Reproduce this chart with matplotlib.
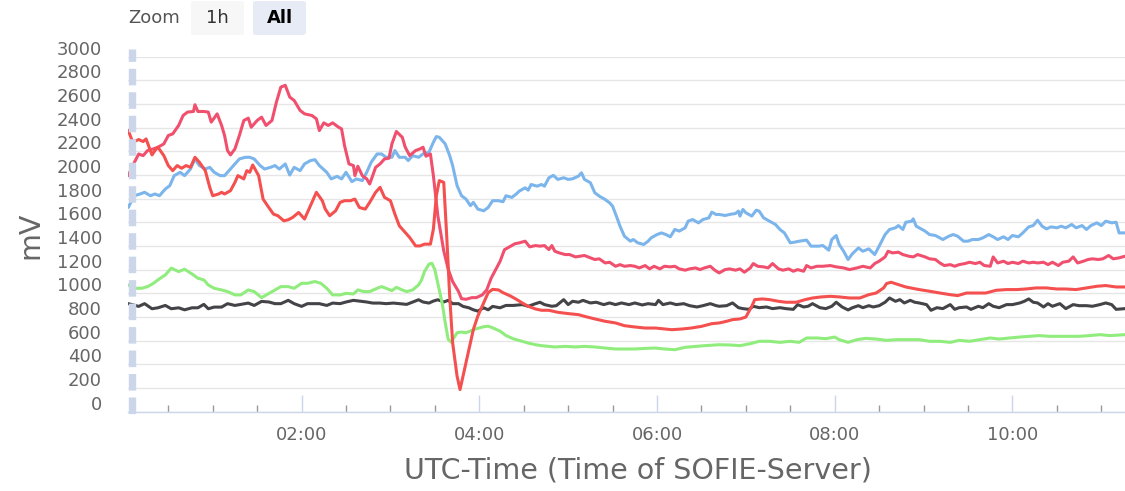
import matplotlib
matplotlib.use("Agg")
import matplotlib.pyplot as plt
from matplotlib.ticker import MultipleLocator, FuncFormatter
from matplotlib.transforms import ScaledTranslation
from matplotlib.lines import Line2D
from matplotlib.patches import FancyBboxPatch

# time in minutes after 00:00 UTC, values in mV
t_blue = [3, 7, 11, 14, 18, 21, 24, 28, 31, 34, 38, 41, 45, 48, 51, 55, 58, 61, 65, 68,
          72, 75, 78, 82, 85, 88, 92, 95, 99, 102, 105, 109, 112, 115, 119, 122, 126, 129, 132,
          137, 140, 144, 147, 150, 154, 157, 161, 164, 167, 171, 174, 177, 181, 183, 186, 190,
          192, 195, 199, 202, 206, 209, 211, 213, 217, 220, 222, 225, 228, 231, 234, 236, 239,
          243, 246, 249, 253, 256, 258, 262, 265, 267, 271, 273, 275, 279, 282, 284, 287, 290,
          293, 297, 300, 303, 307, 309, 311, 315, 318, 321, 325, 328, 330, 333, 335, 338, 342,
          344, 347, 351, 354, 356, 360, 363, 366, 369, 372, 375, 379, 381, 384, 388, 391, 395,
          397, 400, 402, 406, 409, 413, 415, 416, 418, 420, 424, 427, 429, 432, 436, 440, 443,
          446, 450, 453, 456, 461, 464, 469, 472, 476, 478, 481, 483, 486, 489, 492, 496, 499,
          503, 507, 510, 514, 517, 521, 523, 526, 528, 532, 533, 535, 537, 541, 544, 548, 551,
          553, 557, 560, 563, 567, 570, 573, 577, 580, 584, 587, 590, 594, 597, 600, 604, 607,
          611, 614, 617, 620, 623, 626, 630, 633, 636, 640, 643, 647, 650, 653, 657, 660, 663,
          667, 670, 672, 676]
v_blue = [1726, 1825, 1840, 1854, 1825, 1840, 1825, 1882, 1910, 1995, 2023, 1995, 2051, 2136,
          2080, 2051, 2065, 2023, 1995, 1995, 2051, 2094, 2136, 2150, 2150, 2136, 2080, 2051,
          2065, 2080, 2051, 2094, 2000, 2065, 2037, 2094, 2122, 2130, 2080,
          2023, 1967, 1989, 1967, 2023, 1944, 1967, 1953, 2023, 2108, 2178, 2178, 2150, 2150,
          2207, 2150, 2150, 2122, 2164, 2150, 2178, 2192, 2277, 2325, 2319, 2263, 2164, 2080,
          1910, 1825, 1797, 1741, 1769, 1712, 1698, 1726, 1783, 1783, 1774, 1825, 1811, 1840,
          1864, 1892, 1872, 1920, 1906, 1920, 1906, 1977, 1997, 1963, 1977, 1963, 1968, 1991,
          2019, 1963, 1935, 1850, 1822, 1793, 1765, 1737, 1638, 1568, 1483, 1441, 1455, 1427,
          1413, 1441, 1469, 1497, 1511, 1497, 1478, 1540, 1526, 1554, 1610, 1624, 1596, 1624,
          1638, 1686, 1666, 1667, 1658, 1667, 1675, 1695, 1653, 1709, 1681, 1653, 1703, 1695,
          1638, 1610, 1582, 1540, 1511, 1427, 1433, 1441, 1450, 1399, 1399, 1404, 1365, 1455,
          1489, 1413, 1356, 1286, 1336, 1384, 1356, 1376, 1328, 1399, 1497, 1540, 1554, 1573,
          1540, 1601, 1610, 1630, 1568, 1554, 1526, 1497, 1489, 1469, 1455, 1483, 1497, 1483,
          1441, 1441, 1455, 1455, 1469, 1497, 1478, 1455, 1478, 1455, 1489, 1478, 1511, 1562,
          1573, 1618, 1568, 1545, 1562, 1554, 1568, 1554, 1582, 1554, 1573, 1540, 1573, 1596,
          1573, 1610, 1596, 1601, 1511, 1511]

t_pink = [3, 6, 10, 13, 16, 20, 23, 27, 30, 33, 37, 40, 43, 47, 48, 50, 54, 57, 59, 63, 66,
          68, 70, 72, 75, 78, 81, 84, 86, 90, 93, 96, 100, 103, 106, 109, 112, 115, 119, 122,
          127, 130, 132, 135, 138, 141, 145, 147, 149, 152, 155, 156, 158, 161, 164, 166, 170,
          173, 176, 179, 181, 184, 188, 190, 193, 197, 200, 202, 204, 207, 209, 212, 216, 219,
          222, 226, 228, 231, 235, 238, 242, 245, 248, 251, 254, 257, 261, 264, 267, 271, 274,
          278, 281, 284, 287, 289, 291, 294, 298, 301, 305, 308, 311, 315, 318, 321, 325, 328,
          332, 335, 338, 342, 345, 348, 352, 355, 358, 362, 365, 369, 372, 375, 379, 382, 386,
          389, 392, 396, 399, 402, 406, 409, 413, 416, 419, 423, 425, 428, 432, 435, 438, 442,
          445, 449, 452, 455, 459, 461, 464, 468, 472, 477, 481, 486, 490, 495, 499, 504, 507,
          510, 514, 516, 519, 523, 526, 530, 533, 536, 541, 544, 548, 551, 554, 558, 561, 564,
          568, 571, 575, 578, 581, 585, 587, 590, 594, 597, 600, 604, 607, 611, 614, 617, 621,
          624, 627, 631, 634, 638, 641, 644, 648, 651, 654, 658, 661, 665, 668, 672, 676]
v_pink = [1995, 2080, 2178, 2164, 2207, 2221, 2235, 2263, 2334, 2348, 2419, 2503, 2532, 2537,
          2594, 2537, 2537, 2532, 2447, 2517, 2419, 2334, 2207, 2170, 2221, 2334, 2461, 2481,
          2404, 2461, 2489, 2419, 2461, 2616, 2743, 2758, 2659, 2630, 2546, 2517, 2503, 2475,
          2376, 2441, 2419, 2441, 2404, 2390, 2249, 2094, 2080, 1995, 2074, 1995, 1967, 1924,
          2065, 2094, 2136, 2142, 2263, 2368, 2319, 2235, 2164, 2207, 2221, 2235, 2159, 2178,
          1995, 1656, 1359, 1204, 1100, 1015, 955, 950, 964, 964, 987, 1029, 1128, 1199, 1270,
          1369, 1397, 1419, 1427, 1441, 1393, 1404, 1399, 1404, 1370, 1404, 1356, 1342, 1328,
          1328, 1308, 1314, 1320, 1300, 1286, 1292, 1257, 1263, 1229, 1243, 1229, 1235, 1229,
          1215, 1235, 1207, 1229, 1207, 1229, 1224, 1229, 1207, 1196, 1207, 1215, 1201, 1215,
          1229, 1196, 1173, 1201, 1207, 1196, 1207, 1179, 1215, 1252, 1229, 1224, 1215, 1252,
          1207, 1196, 1207, 1187, 1201, 1187, 1235, 1215, 1229, 1229, 1235, 1224, 1215, 1201,
          1215, 1229, 1215, 1252, 1272, 1308, 1356, 1342, 1348, 1328, 1314, 1308, 1328, 1308,
          1292, 1286, 1257, 1235, 1243, 1229, 1243, 1252, 1263, 1252, 1263, 1235, 1229, 1308,
          1257, 1272, 1252, 1263, 1252, 1272, 1257, 1263, 1257, 1263, 1243, 1263, 1235, 1263,
          1272, 1308, 1257, 1272, 1286, 1292, 1286, 1292, 1320, 1292, 1300, 1314]

t_red = [3, 6, 10, 13, 15, 19, 21, 23, 27, 30, 33, 36, 39, 42, 45, 48, 51, 55, 58, 60, 64,
         66, 68, 72, 75, 77, 81, 83, 85, 87, 91, 94, 97, 101, 104, 108, 111, 114, 118, 122,
         126, 130, 134, 136, 139, 143, 146, 149, 153, 156, 159, 163, 166, 170, 173, 176, 180,
         183, 186, 190, 193, 197, 200, 203, 207, 209, 211, 213, 216, 218, 220, 222, 225, 227,
         229, 233, 236, 239, 243, 246, 249, 253, 256, 261, 265, 269, 273, 278, 282, 287, 293,
         300, 307, 311, 318, 325, 332, 338, 345, 352, 359, 365, 370, 377, 383, 390, 397, 402,
         407, 411, 416, 420, 424, 426, 431, 436, 442, 447, 454, 460, 465, 471, 477, 483, 490,
         497, 503, 508, 513, 515, 518, 523, 528, 535, 537, 544, 551, 558, 563, 569, 576, 582,
         589, 596, 603, 609, 616, 623, 630, 636, 643, 650, 657, 663, 670, 676]
v_red = [2376, 2277, 2300, 2283, 2305, 2170, 2207, 2235, 2164, 2080, 2037, 2080, 2057, 2080,
         2065, 2150, 2108, 2037, 1896, 1825, 1840, 1854, 1840, 1868, 1938, 1995, 1967, 2037,
         2023, 2085, 1995, 1797, 1741, 1670, 1656, 1613, 1622, 1642, 1684, 1628, 1741, 1854,
         1783, 1712, 1656, 1698, 1769, 1783, 1783, 1797, 1726, 1712, 1769, 1854, 1896, 1811,
         1783, 1670, 1571, 1515, 1472, 1401, 1401, 1416, 1416, 1543, 1825, 1953, 1938, 1486,
         978, 582, 300, 187, 300, 526, 695, 808, 921, 1006, 1034, 1029, 1006, 978, 950, 919,
         891, 868, 857, 857, 840, 829, 820, 806, 784, 764, 750, 727, 716, 707, 707, 699, 693,
         699, 707, 721, 744, 750, 764, 778, 784, 800, 891, 947, 953, 947, 933, 925, 925, 947,
         961, 970, 975, 970, 961, 961, 989, 1003, 1046, 1083, 1094, 1074, 1054, 1037, 1032,
         1018, 1003, 989, 981, 1003, 1003, 1003, 1026, 1032, 1032, 1037, 1046, 1046, 1037,
         1037, 1032, 1046, 1060, 1066, 1054, 1054]

t_green = [3, 7, 12, 16, 20, 23, 28, 32, 37, 41, 46, 50, 54, 57, 61, 66, 70, 75, 79, 84, 88,
           93, 98, 102, 106, 111, 115, 120, 124, 129, 133, 137, 141, 146, 150, 155, 158, 162,
           166, 171, 174, 177, 181, 184, 188, 191, 195, 199, 201, 203, 206, 208, 210, 212, 215,
           217, 219, 221, 225, 228, 231, 235, 238, 243, 246, 249, 254, 258, 263, 269, 273, 278,
           282, 287, 291, 298, 305, 311, 318, 325, 332, 338, 345, 352, 359, 365, 372, 379, 386,
           392, 399, 402, 409, 416, 423, 429, 436, 443, 450, 456, 461, 468, 474, 480, 483, 489,
           495, 501, 508, 515, 522, 528, 535, 537, 544, 551, 558, 564, 571, 578, 585, 591, 598,
           605, 612, 618, 625, 632, 639, 645, 652, 659, 666, 676]
v_green = [1070, 1043, 1043, 1057, 1085, 1114, 1156, 1213, 1184, 1204, 1164, 1128, 1114, 1071,
           1043, 1029, 1015, 987, 987, 1029, 1015, 964, 1000, 1029, 1057, 1057, 1043, 1085,
           1085, 1100, 1085, 1043, 987, 987, 1000, 995, 1029, 1015, 1015, 1043, 1057, 1043,
           1023, 1051, 1029, 1015, 1029, 1071, 1114, 1184, 1247, 1255, 1199, 1085, 913, 752,
           611, 588, 667, 673, 667, 687, 701, 718, 723, 709, 681, 644, 616, 595, 580, 566,
           558, 552, 547, 552, 547, 552, 547, 538, 530, 530, 530, 535, 538, 530, 524, 544, 552,
           558, 564, 566, 564, 558, 575, 595, 595, 586, 595, 586, 623, 623, 617, 631, 609, 586,
           609, 620, 614, 603, 609, 609, 609, 609, 595, 595, 586, 603, 595, 609, 623, 614, 623,
           631, 637, 643, 637, 637, 637, 637, 643, 651, 643, 651]

t_black = [3, 10, 14, 19, 23, 28, 32, 37, 41, 46, 50, 54, 57, 61, 66, 70, 75, 79, 84, 88, 93,
           98, 102, 106, 111, 115, 120, 124, 129, 132, 137, 141, 146, 150, 155, 159, 164, 168,
           173, 177, 182, 186, 191, 195, 199, 202, 206, 209, 212, 216, 219, 222, 226, 229, 233,
           236, 239, 243, 246, 249, 254, 258, 263, 269, 273, 278, 281, 284, 289, 292, 297, 300,
           303, 307, 310, 315, 319, 324, 328, 332, 336, 341, 345, 350, 354, 359, 361, 364, 369,
           373, 378, 382, 387, 391, 396, 400, 402, 407, 411, 415, 418, 422, 425, 429, 434, 438,
           443, 447, 452, 455, 459, 462, 465, 470, 474, 478, 481, 485, 489, 492, 496, 499, 503,
           506, 510, 514, 517, 521, 524, 527, 531, 534, 537, 542, 545, 549, 553, 558, 561, 564,
           569, 572, 577, 580, 584, 587, 591, 596, 600, 605, 608, 611, 614, 617, 621, 624, 627,
           632, 636, 641, 645, 650, 654, 659, 663, 667, 670, 676]
v_black = [913, 890, 913, 870, 878, 898, 870, 878, 861, 878, 878, 907, 870, 884, 884, 913, 898,
           907, 918, 898, 932, 927, 913, 913, 941, 913, 890, 913, 913, 913, 898, 918, 913, 927,
           941, 935, 927, 918, 918, 913, 918, 913, 907, 927, 946, 927, 918, 935, 946, 927, 941,
           913, 913, 890, 878, 861, 850, 878, 861, 890, 878, 898, 898, 905, 891, 913, 925, 905,
           891, 896, 947, 905, 933, 925, 941, 919, 925, 905, 919, 905, 919, 905, 919, 902, 913,
           905, 941, 905, 919, 905, 913, 896, 885, 896, 913, 896, 891, 896, 919, 879, 871, 865,
           891, 879, 885, 871, 879, 871, 865, 905, 885, 891, 913, 879, 871, 891, 925, 885, 860,
           879, 896, 879, 896, 885, 896, 925, 961, 933, 947, 919, 941, 925, 919, 905, 857, 879,
           871, 905, 865, 879, 885, 865, 891, 879, 913, 891, 879, 905, 905, 919, 933, 953, 925,
           919, 885, 913, 891, 913, 871, 905, 896, 896, 891, 905, 919, 905, 865, 871]

series = [(t_blue, v_blue, '#7cb5ec'),
          (t_black, v_black, '#434348'),
          (t_green, v_green, '#90ed7d'),
          (t_pink, v_pink, '#f0506e'),
          (t_red, v_red, '#f4504f')]

W, H = 1125, 491
fig = plt.figure(figsize=(W / 100, H / 100), dpi=100)
ax = fig.add_axes([128.3 / W, 1 - 411.7 / H, (W - 128.3) / W, (411.7 - 56.7) / H])

for t, v, c in series:
    ax.plot(t, v, color=c, lw=2.2, solid_joinstyle='round', solid_capstyle='round')

ax.set_xlim(3, 676)
ax.set_ylim(0, 3000)
ax.yaxis.set_major_locator(MultipleLocator(200))
ax.xaxis.set_major_locator(MultipleLocator(120))
ax.xaxis.set_minor_locator(MultipleLocator(30))
ax.xaxis.set_major_formatter(FuncFormatter(lambda m, p: "%02d:%02d" % (int(m) // 60, int(m) % 60)))
ax.grid(axis='y', color='#e6e6e6', lw=1)
ax.set_axisbelow(True)
for s in ['left', 'right', 'top']:
    ax.spines[s].set_visible(False)
ax.spines['bottom'].set_color('#ccd6eb')
ax.spines['bottom'].set_linewidth(1)

ax.tick_params(axis='x', which='major', direction='in', length=12, color='#ccd6eb', width=1,
               labelsize=13, labelcolor='#666666', pad=10.5)
ax.tick_params(axis='x', which='minor', direction='in', length=4.8, color='#999999', width=1)
ax.tick_params(axis='y', length=0, labelsize=13, labelcolor='#666666', pad=19)

# highcharts puts the y labels a bit above their grid lines
shift = ScaledTranslation(0, 0.09, fig.dpi_scale_trans)
for lab in ax.get_yticklabels():
    lab.set_transform(lab.get_transform() + shift)

# dashed handle on the left edge
fig.add_artist(Line2D([132 / W, 132 / W], [1 - 49 / H, 1 - 419 / H], transform=fig.transFigure,
                      color='#ccd6eb', lw=5.3, solid_capstyle='butt', dash_capstyle='butt',
                      linestyle=(0.57, (2.25, 0.94))))

# range selector buttons
fig.text(128 / W, 1 - 18 / H, "Zoom", fontsize=13, color='#555555', va='center', ha='left')
for x0, x1, txt, fc, wt, tc in [(191, 244, "1h", '#f7f7f7', 'normal', '#333333'),
                                (253, 306, "All", '#e6ebf5', 'bold', '#000000')]:
    fig.add_artist(FancyBboxPatch((x0 / W, 1 - 35 / H), (x1 - x0) / W, 34 / H,
                                  boxstyle="round,pad=0,rounding_size=0.004",
                                  transform=fig.transFigure, fc=fc, ec='none'))
    fig.text((x0 + x1) / 2 / W, 1 - 18 / H, txt, fontsize=13, color=tc, fontweight=wt,
             va='center', ha='center')

fig.text(638 / W, 1 - 470 / H, "UTC-Time (Time of SOFIE-Server)", fontsize=20.5,
         color='#666666', ha='center', va='center')
fig.text(30 / W, 1 - 235 / H, "mV", fontsize=20.5, color='#666666', rotation=90,
         ha='center', va='center')

fig.savefig("out.png", dpi=100)
